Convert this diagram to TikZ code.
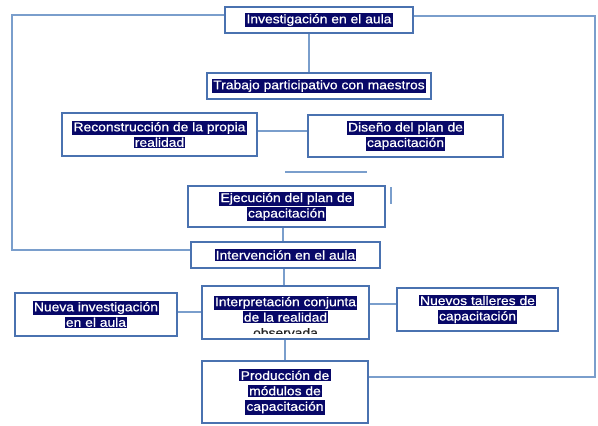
\documentclass[tikz,border=0pt]{standalone}
\usepackage{fontspec}
\setmainfont[FakeBold=0.6]{Liberation Sans}
\usepackage{xcolor}
\usepackage{graphicx}
\usepackage{tikz}
\definecolor{hlnavy}{RGB}{8,8,104}
\definecolor{boxblue}{RGB}{74,114,176}
\definecolor{lineblue}{RGB}{122,158,204}
\newcommand{\hl}[1]{{\setlength{\fboxsep}{0.9pt}\colorbox{hlnavy}{\scalebox{1}[0.9]{\textcolor{white}{#1}}}}}
\tikzset{
  sz/.style 2 args={minimum width=#1*0.75pt, minimum height=#2*0.75pt},
  boxnode/.style={draw=boxblue, line width=1.5pt, inner sep=0pt, align=center,
    font=\fontsize{10.4}{11.6}\selectfont},
  txtnode/.style={inner sep=0pt, align=center, font=\fontsize{10.4}{11.6}\selectfont},
  conn/.style={draw=lineblue, line width=0.8pt}
}

\begin{document}
\begin{tikzpicture}[x=0.75pt,y=-0.75pt]
    \useasboundingbox (0,0) rectangle (598,425);
    % boxes
    \node[boxnode,sz={188}{26}] (inv) at (319,20) {\hl{Investigación en el aula}};
    \node[boxnode,sz={224}{26}] (trab) at (319,86) {\hl{Trabajo participativo con maestros}};
    \node[boxnode,sz={195}{43}] (recon) at (159.5,134.5)
      {\hl{Reconstrucción de la propia}\\\hl{realidad}};
    \node[boxnode,sz={195}{42}] (diseno) at (405.5,136)
      {\hl{Diseño del plan de}\\\hl{capacitación}};
    \node[boxnode,sz={197}{41}] (ejec) at (286.5,206.5)
      {\hl{Ejecución del plan de}\\\hl{capacitación}};
    \node[boxnode,sz={189}{26}] (interv) at (285.5,255) {\hl{Intervención en el aula}};
    \node[boxnode,sz={167}{53}] (interp) at (285.5,312.5) {};
    \begin{scope}
      \clip (204,288) rectangle (367,333);
      \node[txtnode,anchor=north] (interptxt) at (285.5,295.5)
        {\hl{Interpretación conjunta}\\\hl{de la realidad}\\\textcolor{black!85}{\scalebox{1}[0.9]{observada}}};
    \end{scope}
    \node[boxnode,sz={162}{43}] (nueva) at (96,314.5)
      {\hl{Nueva investigación}\\\hl{en el aula}};
    \node[boxnode,sz={161}{43}] (talleres) at (477.5,309.5)
      {\hl{Nuevos talleres de}\\\hl{capacitación}};
    \node[boxnode,sz={166}{62}] (prod) at (285,392)
      {\hl{Producción de}\\\hl{módulos de}\\\hl{capacitación}};
    % connectors
    \coordinate (lefttop) at (12,15);
    \coordinate (leftbot) at (12,250);
    \coordinate (righttop) at (595,16);
    \coordinate (rightbot) at (595,377);
    \draw[conn] (inv.south -| 309,0) -- (trab.north -| 309,0);
    \draw[conn] (recon.east |- 0,131) -- (diseno.west |- 0,131);
    \draw[conn] (285,172) -- (367,172);
    \draw[conn] (391,187) -- (391,204);
    \draw[conn] (ejec.south -| 283,0) -- (interv.north -| 283,0);
    \draw[conn] (interv.south -| 284,0) -- (interp.north -| 284,0);
    \draw[conn] (nueva.east |- 0,312) -- (interp.west |- 0,312);
    \draw[conn] (interp.east |- 0,304) -- (talleres.west |- 0,304);
    \draw[conn] (interp.south -| 285,0) -- (prod.north -| 285,0);
    \draw[conn] (inv.west |- lefttop) -- (lefttop) -- (leftbot) -- (interv.west |- leftbot);
    \draw[conn] (inv.east |- righttop) -- (righttop) -- (rightbot) -- (prod.east |- rightbot);
\end{tikzpicture}
\end{document}
